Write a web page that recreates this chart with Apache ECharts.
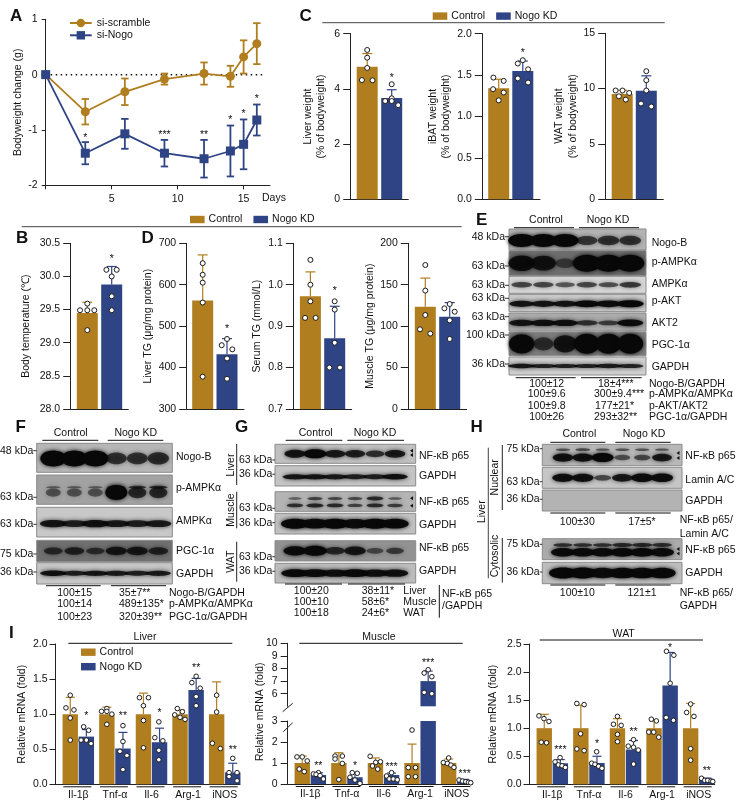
<!DOCTYPE html>
<html><head><meta charset="utf-8">
<style>html,body{margin:0;padding:0;background:#fff}#c{width:738px;height:810px}</style>
<script src="https://cdn.jsdelivr.net/npm/echarts@6/dist/echarts.min.js"></script>
</head><body><div id="c"></div>
<script>
// ---------- data: panel A ----------
const days=[0,3,6,9,12,14,15,16];
const scrambleMean=[0,-0.67,-0.31,-0.08,0.02,-0.03,0.32,0.56];
const scrambleErr=[0,0.23,0.24,0.10,0.20,0.19,0.30,0.37];
const nogoMean=[0,-1.42,-1.07,-1.42,-1.52,-1.38,-1.26,-0.82];
const nogoErr=[0,0.20,0.27,0.24,0.34,0.46,0.45,0.28];
const starsA=[[3,-1.11,'*'],[9,-1.05,'***'],[12,-1.05,'**'],[14,-0.78,'*'],[15,-0.67,'*'],[16,-0.40,'*']];
// ---------- data: two-bar panels: means, sds, points as [jitter, value] ----------
const liverWMean=[4.8,3.67], liverWSd=[0.48,0.30];
const liverWCtl=[[0,5.41],[0,5.13],[0,4.76],[-5.3,4.32],[5.3,4.31]];
const liverWKd=[[0,4.17],[0,3.66],[-6.5,3.56],[0,3.56],[6.5,3.41]];
const ibatMean=[1.34,1.55], ibatSd=[0.11,0.12];
const ibatCtl=[[-5.3,1.47],[5,1.43],[-5.6,1.33],[5,1.29],[0,1.195]];
const ibatKd=[[0,1.68],[-5,1.64],[5.3,1.57],[-5,1.46],[5.3,1.41]];
const watMean=[9.5,9.8], watSd=[0.35,1.35];
const watCtl=[[-6.6,9.82],[0.3,9.82],[7,9.6],[-3.3,9.3],[3.6,9.0]];
const watKd=[[0,11.57],[0,10.75],[0,9.82],[-5.3,8.64],[5,8.37]];
const tempMean=[29.45,29.88], tempSd=[0.16,0.27];
const tempCtl=[[0,29.59],[-7.3,29.49],[0,29.49],[7,29.49],[0,29.19]];
const tempKd=[[-5.3,30.1],[5,30.1],[0,30.0],[0,29.7],[0,29.49]];
const liverTgMean=[562,432], liverTgSd=[110,38];
const liverTgCtl=[[0,652],[0,624],[0,605],[0,557],[0,378]];
const liverTgKd=[[0,469],[-5.3,454],[5.3,444],[0,422],[0,373]];
const serumMean=[0.972,0.871], serumSd=[0.059,0.077];
const serumCtl=[[0,1.06],[0,1.0],[0,0.96],[-5.3,0.92],[5.3,0.92]];
const serumKd=[[0,0.96],[0,0.94],[0,0.86],[-5.3,0.8],[5.3,0.8]];
const muscleTgMean=[123.5,111.4], muscleTgSd=[34.5,17];
const muscleTgCtl=[[0,173.8],[0,142.9],[0,113.5],[-5.3,96.2],[5,91]];
const muscleTgKd=[[0,126.7],[-5.3,121.5],[5,117.4],[0,107],[0,84.5]];
// ---------- data: panel I ----------
const mrnaCats=['Il-1β','Tnf-α','Il-6','Arg-1','iNOS'];
const ctlOne=[1,1,1,1,1];
const mLiverKd=[0.68,0.51,0.6,1.345,0.17];
const mLiverCtlSd=[0.24,0.10,0.30,0.06,0.46], mLiverKdSd=[0.10,0.23,0.20,0.165,0.13];
const mLiverCtlPts=[
 [[0,1.27],[-4.3,1.09],[3.7,1.06],[0,0.945],[0,0.63]],
 [[0,1.08],[-5.3,1.04],[0,1.04],[5,1.0],[0,0.855]],
 [[-4,1.235],[5,1.235],[0,1.12],[0,0.91],[0,0.52]],
 [[-2.7,1.08],[2.3,1.035],[-5.3,0.99],[0,0.955],[5,0.925]],
 [[0,1.27],[0,1.03],[-4.3,0.585],[3.7,0.51]]];
const mLiverKdPts=[
 [[-2.7,0.82],[2.3,0.77],[-5.3,0.63],[0,0.63],[4.7,0.58]],
 [[0,0.836],[0,0.61],[-3,0.47],[4,0.41],[0,0.21]],
 [[-0.7,0.89],[-4.7,0.665],[3.3,0.62],[-0.7,0.485],[-0.7,0.35]],
 [[0,1.54],[-4.3,1.45],[4,1.37],[0,1.25],[0,1.12]],
 [[0,0.37],[-3.7,0.166],[4.3,0.166],[-3.7,0.11],[4.3,0.05]]];
const mLiverStars=[[0.22,1.0,'*'],[1.22,1.0,'**'],[2.22,1.05,'*'],[3.22,1.68,'**'],[4.22,0.51,'**']];
const mMuscleKd=[0.43,0.32,0.43,7,0.16];
const mMuscleCtlSd=[0.33,0.49,0.24,0.9,0.19], mMuscleKdSd=[0.11,0.22,0.09,0.8,0.06];
const mMuscleCtlPts=[
 [[-5.3,1.29],[0,1.29],[5,1.1],[-3,0.71],[2,0.59]],
 [[-3.8,1.33],[3.5,1.33],[-3.8,1.19],[3.5,0.98],[0,0.21]],
 [[-5.3,1.32],[0.3,1.03],[5,1.06],[-3,0.86],[2.3,0.71]],
 [[0,2.57],[-3.8,0.78],[3.5,0.78],[-3.8,0.35],[3.5,0.35]],
 [[0,1.24],[-5.3,1.02],[-1.3,0.98],[2.3,0.9],[5.3,0.79]]];
const mMuscleKdPts=[
 [[-5,0.48],[0,0.54],[-2.3,0.46],[1.7,0.4],[5,0.24]],
 [[-2.7,0.54],[2.3,0.51],[-5,0.32],[0,0.19],[5,0.03]],
 [[0,0.54],[-5,0.38],[-2.3,0.24],[1.7,0.24],[5.7,0.2]],
 [[0,7.9],[-4,7.64],[3.7,7.35],[-4,6.1],[3.7,6.0]],
 [[-5.7,0.19],[-2.3,0.14],[1,0.11],[3.7,0.08],[6,0.06]]];
const mMuscleStars=[[0.22,0.97,'**'],[1.22,0.94,'*'],[2.22,0.90,'***'],[4.22,0.59,'***']];
const mMuscleStarsHigh=[[3.22,8.6,'***']];
const mWatKd=[0.375,0.38,0.62,1.76,0.095];
const mWatCtlSd=[0.247,0.41,0.17,0.13,0.44], mWatKdSd=[0.065,0.12,0.16,0.59,0.015];
const mWatCtlPts=[
 [[-5.3,1.22],[-0.3,1.17],[4.7,1.12],[-3,0.75],[2.3,0.74]],
 [[-4,1.44],[3.3,1.42],[-0.3,0.9],[-4,0.63],[3.3,0.6]],
 [[0,1.21],[-4,1.07],[3.7,1.05],[0,0.89],[0,0.76]],
 [[-2.7,1.16],[2.3,1.13],[-5.3,0.93],[-0.3,0.93],[4.7,0.84]],
 [[0,1.43],[-4,1.28],[3.3,1.21],[0,0.635],[0,0.43]]];
const mWatKdPts=[
 [[-0.3,0.475],[-5.3,0.40],[-2,0.345],[1.7,0.33],[5,0.30]],
 [[-0.3,0.58],[-5.3,0.375],[-2,0.356],[1.7,0.32],[5,0.285]],
 [[0,0.795],[-5.3,0.68],[0,0.66],[4.7,0.61],[0,0.36]],
 [[-3.7,2.37],[3.7,2.3],[0,1.8],[-4,1.19],[3.3,1.14]],
 [[-5.3,0.107],[-2,0.07],[1,0.07],[4.3,0.06],[6,0.05]]];
const mWatStars=[[0.22,0.64,'***'],[1.22,0.76,'*'],[2.22,0.96,'**'],[3.22,2.46,'*'],[4.22,0.27,'**']];
// ---------- data: blot band strengths per lane ----------
const eNogoB=[1,1,1,.45,.5,.5], ePampk=[.85,.75,.2,1,1,1], eAmpk=[.42,.4,.3,.4,.35,.5], ePakt=[.8,.8,.8,.95,.9,1], eAkt2=[.8,.85,.85,.5,.4,.9], ePgc=[.95,.4,.75,1,1,1], eGapdh=[.8,.7,.7,.7,.75,.7];
const fNogoB=[1,1,1,.5,.5,.55], fPampkUp=[.15,.15,.15,.6,.5,.6], fPampk=[.2,.2,.2,1,.55,.55], fAmpk=[.8,.7,.85,.75,.7,.75], fPgc=[.45,.55,.4,.7,.7,.55], fGapdh=[.85,.7,.8,.75,.7,.75];
const gLiverP65=[.8,1,.75,.7,.55,.75], gLiverGapdh=[.8,.8,.75,.7,.7,.85];
const gMuscleP65Up=[.15,.4,.35,.35,.6,.2], gMuscleP65=[.55,.65,.6,.4,.6,.45], gMuscleGapdh=[1,.95,1,.9,1,.95];
const gWatP65=[.9,1,.55,.75,.25,.35], gWatGapdh=[.95,.9,.85,.95,.85,.85];
const hNucP65Up=[.3,.35,.25,.3,.3,.25], hNucP65=[.85,.85,1,.3,.35,.75], hLamin=[.85,.85,.35,.75,.9,.9];
const hCytP65Up=[.5,.5,.5,.6,.6,.55], hCytP65=[.9,.9,.9,.95,.95,.9], hCytGapdh=[1,1,.9,.95,.95,.95];

// ---------- build ----------
const GOLD='#B07E1F', BLUE='#2E4484', INK='#222', FONT='"Liberation Sans",Arial,sans-serif', FS=10.5;
const option={animation:false,backgroundColor:'#fff',textStyle:{fontFamily:FONT},grid:[],xAxis:[],yAxis:[],series:[],legend:[],graphic:[]};
const G=option.graphic;
function T(x,y,text,o){o=o||{};G.push({type:'text',x,y,rotation:o.rot?Math.PI/2:0,z:20,silent:true,style:{text,align:o.align||'left',verticalAlign:'middle',fill:o.fill||'#111',font:(o.weight||'normal')+' '+(o.size||FS)+'px '+FONT}});}
function L(x1,y1,x2,y2,c,w){G.push({type:'line',z:19,silent:true,shape:{x1,y1,x2,y2},style:{stroke:c||INK,lineWidth:w||1}});}
function addAxes(a){
  const gi=option.grid.length;
  option.grid.push({left:a.l,top:a.t,width:a.r-a.l,height:a.b-a.t,containLabel:false});
  const lineS={color:INK,width:1};
  const lab={color:'#111',fontSize:FS,fontFamily:FONT};
  const tl=a.ytick||7;
  const x={type:'value',gridIndex:gi,min:a.xmin,max:a.xmax,splitLine:{show:false},axisLine:{onZero:false,lineStyle:lineS,show:!a.hideX},axisTick:{show:false},axisLabel:{show:false}};
  if(a.xLabels){x.axisLabel={show:true,margin:a.xMargin||5,hideOverlap:false,showMinLabel:true,showMaxLabel:true,customValues:a.xValues,formatter:v=>a.xLabels(v),...lab};}
  if(a.xTicks){x.axisTick={show:true,length:a.tick||4,customValues:a.xTicks,lineStyle:lineS};}
  const y={type:'value',gridIndex:gi,min:a.ymin,max:a.ymax,interval:a.yint,splitLine:{show:false},
    axisLine:{onZero:false,lineStyle:lineS},axisTick:{length:tl,lineStyle:lineS},axisLabel:{margin:a.ymargin||(tl+3),showMinLabel:true,showMaxLabel:true,formatter:a.yfmt,...lab}};
  if(a.yValues){y.axisTick.customValues=a.yValues;y.axisLabel.customValues=a.yValues;}
  if(a.yname){Object.assign(y,{name:a.yname,nameLocation:'middle',nameGap:a.nameGap,nameTextStyle:{color:'#111',fontSize:FS,fontFamily:FONT,lineHeight:13.5}});}
  option.xAxis.push(x);option.yAxis.push(y);
  return gi;
}
function barS(gi,name,color,data,w){option.series.push({type:'bar',name,xAxisIndex:gi,yAxisIndex:gi,data,barWidth:w,barGap:'-100%',z:2,itemStyle:{color},silent:true});}
function errS(gi,color,data,cap,lw,z){
  option.series.push({type:'custom',name:'err',xAxisIndex:gi,yAxisIndex:gi,z:z||3,silent:true,data,
    renderItem(p,api){
      const x=api.value(0),m=api.value(1),e=api.value(2),both=api.value(3);
      const a=api.coord([x,m+e]),b=api.coord([x,both?m-e:m]);
      const st={stroke:color,lineWidth:lw,fill:null};
      const kids=[{type:'line',shape:{x1:a[0],y1:a[1],x2:b[0],y2:b[1]},style:st},{type:'line',shape:{x1:a[0]-cap,y1:a[1],x2:a[0]+cap,y2:a[1]},style:st}];
      if(both)kids.push({type:'line',shape:{x1:b[0]-cap,y1:b[1],x2:b[0]+cap,y2:b[1]},style:st});
      return {type:'group',children:kids};
    }});
}
function ptS(gi,data,size){option.series.push({type:'scatter',name:'pts',xAxisIndex:gi,yAxisIndex:gi,z:5,silent:true,data,symbol:'circle',symbolSize:size||5,itemStyle:{color:'#fff',borderColor:'#1c1c1c',borderWidth:1,opacity:1}});}
function starS(gi,list){
  option.series.push({type:'custom',name:'stars',xAxisIndex:gi,yAxisIndex:gi,z:6,silent:true,data:list.map(s=>[s[0],s[1]]),
    renderItem(p,api){const c=api.coord([api.value(0),api.value(1)]);
      return {type:'text',x:c[0],y:c[1]+2,style:{text:list[p.dataIndex][2],align:'center',verticalAlign:'middle',fill:'#111',font:'10.5px '+FONT,lineHeight:10}};}});
}
function twoBar(a,mean,sd,ctl,kd,stars){
  const unit=a.c1-a.c0;
  const gi=addAxes({l:a.l,r:a.r,t:a.t,b:a.b,xmin:(a.l-a.c0)/unit,xmax:(a.r-a.c0)/unit,ymin:a.ymin,ymax:a.ymax,yint:a.yint,yname:a.yname,nameGap:a.nameGap,yfmt:a.yfmt,ytick:7.5});
  barS(gi,'Control',GOLD,[[0,mean[0]]],21);
  barS(gi,'Nogo KD',BLUE,[[1,mean[1]]],21);
  errS(gi,GOLD,[[0,mean[0],sd[0],0]],5,1.2);
  errS(gi,BLUE,[[1,mean[1],sd[1],0]],5,1.2);
  ptS(gi,ctl.map(p=>[p[0]/unit,p[1]]));
  ptS(gi,kd.map(p=>[1+p[0]/unit,p[1]]));
  if(stars)starS(gi,stars);
}
const PITCH=36.6, OFF=0.22;
function fiveBar(a,kdM,ctlSd,kdSd,ctlP,kdP,stars){
  const idx=a.only||[0,1,2,3,4];
  const gi=addAxes({l:a.l,r:a.r,t:a.t,b:a.b,xmin:(a.l-a.g0)/PITCH,xmax:(a.r-a.g0)/PITCH,ymin:a.ymin,ymax:a.ymax,yint:a.yint,yname:a.yname,nameGap:a.nameGap,yfmt:a.yfmt,ytick:a.ytick||5.5,ymargin:a.ymargin||7.5,
    hideX:a.hideX,xValues:a.hideX?null:[0,1,2,3,4],xLabels:a.hideX?null:(v=>mrnaCats[Math.round(v)]),xMargin:5});
  barS(gi,'Control',GOLD,idx.map(i=>[i-OFF,ctlOne[i]]),15.4);
  barS(gi,'Nogo KD',BLUE,idx.map(i=>[i+OFF,kdM[i]]),15.4);
  const show=(v)=>v<=a.ymax&&v>=a.ymin;
  errS(gi,GOLD,idx.filter(i=>show(1)).map(i=>[i-OFF,1,ctlSd[i],0]),4.5,1.2);
  errS(gi,BLUE,idx.filter(i=>show(kdM[i])).map(i=>[i+OFF,kdM[i],kdSd[i],0]),4.5,1.2);
  const pts=[];
  idx.forEach(i=>{ctlP[i].forEach(p=>{if(show(p[1]))pts.push([i-OFF+p[0]/PITCH,p[1]]);});
                  kdP[i].forEach(p=>{if(show(p[1]))pts.push([i+OFF+p[0]/PITCH,p[1]]);});});
  ptS(gi,pts,4.6);
  if(stars)starS(gi,stars);
  if(!a.hideX){ // group brackets under each category, on the axis scale
    option.series.push({type:'custom',name:'brackets',xAxisIndex:gi,yAxisIndex:gi,z:3,silent:true,clip:false,data:[0,1,2,3,4].map(i=>[i,a.ymin]),
      renderItem(p,api){const c=api.coord([api.value(0),api.value(1)]);const h=14;
        return {type:'line',shape:{x1:c[0]-h+a.bshift,y1:c[1]+2.5,x2:c[0]+h+a.bshift,y2:c[1]+2.5},style:{stroke:'#111',lineWidth:1}};}});
  }
  return gi;
}
function lgd(left,top,orient,gap){option.legend.push({left,top,orient,itemWidth:14.6,itemHeight:7.4,itemGap:gap,padding:0,selectedMode:false,icon:'rect',data:['Control','Nogo KD'],textStyle:{fontSize:FS,color:'#111',fontFamily:FONT,padding:[0,0,0,-1]}});}

// ---- Panel A
(function(){
  const gi=addAxes({l:45.7,r:270,t:19.3,b:185.3,xmin:0,xmax:17,ymin:-2,ymax:1,yint:1,ytick:4,ymargin:8,yname:'Bodyweight change (g)',nameGap:19.4,
    xValues:[5,10,15],xLabels:v=>String(v),xTicks:[0,5,10,15],tick:4,xMargin:8});
  option.series.push({type:'line',name:'zero',xAxisIndex:gi,yAxisIndex:gi,z:1,silent:true,symbol:'none',data:[[0,0],[16.6,0]],lineStyle:{color:'#111',width:1.5,type:[1.5,3.5]}});
  errS(gi,GOLD,days.map((d,i)=>[d,scrambleMean[i],scrambleErr[i],1]),3.7,1.8);
  errS(gi,BLUE,days.map((d,i)=>[d,nogoMean[i],nogoErr[i],1]),3.7,1.8);
  option.series.push({type:'line',name:'si-scramble',xAxisIndex:gi,yAxisIndex:gi,z:4,silent:true,symbol:'circle',symbolSize:9,data:days.map((d,i)=>[d,scrambleMean[i]]),lineStyle:{color:GOLD,width:1.8},itemStyle:{color:GOLD}});
  option.series.push({type:'line',name:'si-Nogo',xAxisIndex:gi,yAxisIndex:gi,z:4,silent:true,symbol:'rect',symbolSize:9,data:days.map((d,i)=>[d,nogoMean[i]]),lineStyle:{color:BLUE,width:1.8},itemStyle:{color:BLUE}});
  starS(gi,starsA);
  option.legend.push({left:69,top:17.5,orient:'vertical',itemWidth:21.7,itemHeight:10.5,itemGap:1.3,padding:0,selectedMode:false,data:['si-scramble','si-Nogo'],textStyle:{fontSize:FS,color:'#111',fontFamily:FONT}});
  T(262,198,'Days');
})();
T(10,16.5,'A',{weight:'bold',size:17});

// ---- Panel C
T(299.5,16,'C',{weight:'bold',size:17});
lgd(432.7,10.6,'horizontal',11);
L(322.3,22.7,664.7,22.7,'#444',1);
const f1=v=>v.toFixed(1), f0=v=>String(v);
twoBar({l:350.7,r:408.3,t:33.7,b:199.3,c0:367.2,c1:391.7,ymin:0,ymax:6,yint:2,yname:'Liver weight\n(% of bodyweight)',nameGap:22.7},liverWMean,liverWSd,liverWCtl,liverWKd,[[1,4.47,'*']]);
twoBar({l:482.3,r:540,t:33.7,b:199.3,c0:498.7,c1:522.8,ymin:0,ymax:2,yint:.5,yfmt:f1,yname:'iBAT weight\n(% of bodyweight)',nameGap:29},ibatMean,ibatSd,ibatCtl,ibatKd,[[1,1.79,'*']]);
twoBar({l:605.7,r:663.3,t:33.3,b:199,c0:622.2,c1:646.3,ymin:0,ymax:15,yint:5,yname:'WAT weight\n(% of bodyweight)',nameGap:24.7},watMean,watSd,watCtl,watKd);

// ---- Panels B and D
lgd(190,214,'horizontal',11);
L(21.7,226.7,461.7,226.7,'#444',1);
T(16,238.5,'B',{weight:'bold',size:17});
T(141.5,238.5,'D',{weight:'bold',size:17});
twoBar({l:70.7,r:128.3,t:243.3,b:409,c0:87.3,c1:111.7,ymin:28,ymax:30.5,yint:.5,yfmt:f1,yname:'Body temperature (℃)',nameGap:37.7},tempMean,tempSd,tempCtl,tempKd,[[1,30.29,'*']]);
twoBar({l:186.7,r:244,t:243.3,b:409,c0:202.7,c1:227,ymin:300,ymax:700,yint:100,yname:'Liver TG (μg/mg protein)',nameGap:30.4},liverTgMean,liverTgSd,liverTgCtl,liverTgKd,[[1,497,'*']]);
twoBar({l:293.3,r:351.7,t:243.3,b:409,c0:310.4,c1:334.7,ymin:.7,ymax:1.1,yint:.1,yfmt:f1,yname:'Serum TG (mmol/L)',nameGap:24},serumMean,serumSd,serumCtl,serumKd,[[1,0.99,'*']]);
twoBar({l:408.3,r:466.7,t:243.3,b:409,c0:425.3,c1:449.7,ymin:0,ymax:200,yint:50,yname:'Muscle TG (μg/mg protein)',nameGap:29},muscleTgMean,muscleTgSd,muscleTgCtl,muscleTgKd);

// ---- Blots
function blot(x0,y0,x1,y1,bg,lane0,pitch,rows){
  const gi=option.grid.length;
  option.grid.push({left:x0,top:y0,width:x1-x0,height:y1-y0,show:true,backgroundColor:bg,borderColor:'#8a8a8a',borderWidth:1,containLabel:false});
  option.xAxis.push({type:'value',gridIndex:gi,show:false,min:(x0-lane0)/pitch,max:(x1-lane0)/pitch});
  option.yAxis.push({type:'value',gridIndex:gi,show:false,min:0,max:1,inverse:true});
  rows.forEach(r=>{
    option.series.push({type:'custom',name:'band',xAxisIndex:gi,yAxisIndex:gi,z:2,silent:true,data:r.v.map((v,i)=>[i,r.y,v]),
      renderItem(p,api){const c=api.coord([api.value(0),api.value(1)]),v=api.value(2);
        const a=.35+.65*v;
        return {type:'ellipse',shape:{cx:c[0],cy:c[1],rx:r.w/2*(.6+.4*v),ry:r.h/2*(.45+.55*v)},style:{fill:'rgba(8,8,8,'+a.toFixed(2)+')',shadowBlur:4,shadowColor:'rgba(8,8,8,'+a.toFixed(2)+')'}};}});
  });
}
function kda(xr,xb,y,t){T(xr,y,t,{align:'right'});L(xr,y,xb,y,'#333',1);}
function head(cx1,cx2,y,ly,a1,a2,b1,b2){T(cx1,y,'Control',{align:'center'});T(cx2,y,'Nogo KD',{align:'center'});L(a1,ly,a2,ly,'#111',1);L(b1,ly,b2,ly,'#111',1);}
function tri(x,y){G.push({type:'polygon',z:19,silent:true,shape:{points:[[x,y],[x+3,y-2],[x+3,y+2]]},style:{fill:'#111'}});}

// E
T(476,220,'E',{weight:'bold',size:17});
head(546,608,220,227.7,514,574,579,639);
const eX=[509,646], eL=521.7, eP=21.7;
blot(eX[0],229,eX[1],250,'#b2b2b2',eL,eP,[{y:.55,h:13,w:27,v:eNogoB}]);
blot(eX[0],250.7,eX[1],275.7,'#6d6d6d',eL,eP,[{y:.5,h:17,w:28,v:ePampk}]);
blot(eX[0],276.3,eX[1],293.3,'#d6d6d6',eL,eP,[{y:.5,h:8,w:27,v:eAmpk}]);
blot(eX[0],294.3,eX[1],311.7,'#c9c9c9',eL,eP,[{y:.55,h:7,w:27,v:ePakt}]);
blot(eX[0],313,eX[1],331,'#ababab',eL,eP,[{y:.55,h:7,w:27,v:eAkt2}]);
blot(eX[0],332,eX[1],355.7,'#7c7c7c',eL,eP,[{y:.5,h:20,w:26,v:ePgc}]);
blot(eX[0],357,eX[1],375,'#cfcfcf',eL,eP,[{y:.5,h:5,w:30,v:eGapdh}]);
[[236.7,'48 kDa'],[266,'63 kDa'],[285.3,'63 kDa'],[298.3,'63 kDa'],[316.7,'63 kDa'],[335,'100 kDa'],[364,'36 kDa']].forEach(k=>kda(505,509,k[0],k[1]));
[[242.7,'Nogo-B'],[262.3,'p-AMPKα'],[284.3,'AMPKα'],[301,'p-AKT'],[322.7,'AKT2'],[345,'PGC-1α'],[366.7,'GAPDH']].forEach(k=>T(651.7,k[0],k[1]));
L(515.7,377.7,575.7,377.7,'#111');L(581,377.7,641.7,377.7,'#111');
[[384,'100±12',598,'18±4***','Nogo-B/GAPDH'],[394.3,'100±9.6',594,'300±9.4***','p-AMPKα/AMPKα'],[406.3,'100±9.8',595,'177±21*','p-AKT/AKT2'],[416.7,'100±26',594,'293±32**','PGC-1α/GAPDH']].forEach(r=>{T(546.7,r[0],r[1],{align:'center'});T(r[2],r[0],r[3]);T(649,r[0],r[4]);});

// F
T(15.5,427.5,'F',{weight:'bold',size:17});
head(70.7,135.7,433.3,440.3,42.3,98.3,107.7,163.3);
const fL=53.3,fP=21;
blot(36.7,443.3,172.3,472.3,'#b6b6b6',fL,fP,[{y:.52,h:16,w:26,v:fNogoB}]);
blot(36.7,475,172.3,504.3,'#a2a2a2',fL,fP,[{y:.42,h:4,w:22,v:fPampkUp},{y:.6,h:15,w:22,v:fPampk}]);
blot(36.7,507.3,172.3,537,'#c8c8c8',fL,fP,[{y:.55,h:8,w:29,v:fAmpk}]);
blot(36.7,540.3,172.3,561.7,'#707070',fL,fP,[{y:.5,h:10,w:24,v:fPgc}]);
blot(36.7,562.7,172.3,584,'#c6c6c6',fL,fP,[{y:.5,h:6,w:28,v:fGapdh}]);
[[450.7,'48 kDa'],[497.3,'63 kDa'],[524.3,'63 kDa'],[554,'75 kDa'],[572,'36 kDa']].forEach(k=>kda(33.3,36.7,k[0],k[1]));
[[457.3,'Nogo-B'],[487.7,'p-AMPKα'],[520.7,'AMPKα'],[550.7,'PGC-1α'],[573.7,'GAPDH']].forEach(k=>T(176,k[0],k[1]));
L(46,585.7,100.7,585.7,'#111');L(111,585.7,166,585.7,'#111');
[[592.7,'100±15','35±7**','Nogo-B/GAPDH'],[604.5,'100±14','489±135*','p-AMPKα/AMPKα'],[617.5,'100±23','320±39**','PGC-1α/GAPDH']].forEach(r=>{T(74.7,r[0],r[1],{align:'center'});T(119,r[0],r[2]);T(169,r[0],r[3]);});

// G
T(235,427.5,'G',{weight:'bold',size:17});
head(315.7,375,432.7,440.3,285.7,342.3,347.3,404);
const gL=295,gP=20;
blot(275,444.3,415.7,463.3,'#c0c0c0',gL,gP,[{y:.5,h:9,w:23,v:gLiverP65}]);
blot(275,465.7,415.7,486,'#c4c4c4',gL,gP,[{y:.55,h:6,w:27,v:gLiverGapdh}]);
blot(275,491.7,415.7,511.3,'#b4b4b4',gL,gP,[{y:.35,h:5,w:20,v:gMuscleP65Up},{y:.7,h:5,w:20,v:gMuscleP65}]);
blot(275,513.3,415.7,534,'#c0c0c0',gL,gP,[{y:.5,h:10,w:28,v:gMuscleGapdh}]);
blot(275,540.7,415.7,561,'#929292',gL,gP,[{y:.5,h:10,w:24,v:gWatP65}]);
blot(275,563.3,415.7,583,'#bcbcbc',gL,gP,[{y:.5,h:8,w:28,v:gWatGapdh}]);
[[460,'63 kDa'],[474.3,'36 kDa'],[508.3,'63 kDa'],[522.7,'36 kDa'],[556.7,'63 kDa'],[571.3,'36 kDa']].forEach(k=>kda(272.3,275,k[0],k[1]));
[[455.7,'NF-κB p65'],[476.3,'GAPDH'],[502.3,'NF-κB p65'],[525,'GAPDH'],[548,'NF-κB p65'],[571.3,'GAPDH']].forEach(k=>T(419,k[0],k[1]));
[[410,450.7],[410,455],[410,498.3],[410,505.7]].forEach(p=>tri(p[0],p[1]));
T(230.7,465,'Liver',{rot:1,align:'center'});L(236.7,444,236.7,485,'#222');
T(231,510,'Muscle',{rot:1,align:'center'});L(236.7,491.7,236.7,528.3,'#222');
T(231,561.7,'WAT',{rot:1,align:'center'});L(236.7,541.7,236.7,581.7,'#222');
L(285,584,342,584,'#111');L(348,584,405,584,'#111');
[[591.3,'100±20','38±11*','Liver'],[602,'100±10','58±6*','Muscle'],[612.7,'100±18','24±6*','WAT']].forEach(r=>{T(311.3,r[0],r[1],{align:'center'});T(361.7,r[0],r[2]);T(403.3,r[0],r[3]);});
L(439.3,585,439.3,617.7,'#111');
T(442,594.3,'NF-κB p65');T(442,605.7,'/GAPDH');

// H
T(470.5,427.5,'H',{weight:'bold',size:17});
head(579.3,644,434.3,442.3,550.3,605.3,615.3,670.7);
const hL=563,hP=19.8;
blot(542.3,444.3,682,465.7,'#b8b8b8',hL,hP,[{y:.25,h:4,w:20,v:hNucP65Up},{y:.62,h:9,w:22,v:hNucP65}]);
blot(542.3,467.3,682,488.3,'#c6c6c6',hL,hP,[{y:.5,h:9,w:23,v:hLamin}]);
blot(542.3,490,682,511,'#b3b3b3',hL,hP,[]);
blot(542.3,538.7,682,559.7,'#ababab',hL,hP,[{y:.3,h:5,w:24,v:hCytP65Up},{y:.65,h:9,w:25,v:hCytP65}]);
blot(542.3,562.3,682,583.7,'#bdbdbd',hL,hP,[{y:.5,h:11,w:28,v:hCytGapdh}]);
[[448.7,'75 kDa'],[481.7,'63 kDa'],[499.3,'36 kDa'],[544.3,'75 kDa'],[572,'36 kDa']].forEach(k=>kda(539.7,542.3,k[0],k[1]));
[[456,'NF-κB p65'],[480,'Lamin A/C'],[500.7,'GAPDH'],[550,'NF-κB p65'],[573.3,'GAPDH']].forEach(k=>T(685.3,k[0],k[1]));
[[676.5,453],[676.5,458],[676.5,549],[676.5,553.5]].forEach(p=>tri(p[0],p[1]));
T(495.3,477.3,'Nuclear',{rot:1,align:'center'});L(502.3,445,502.3,510,'#222');
T(495.3,556,'Cytosolic',{rot:1,align:'center'});L(502.3,538,502.3,582.7,'#222');
T(481.7,511.7,'Liver',{rot:1,align:'center'});L(488.3,447.7,488.3,578.3,'#444');
L(550.3,513,605.3,513,'#111');L(615.3,513,670.7,513,'#111');
T(577.3,521.7,'100±30',{align:'center'});T(642,521.7,'17±5*',{align:'center'});
T(679.7,520.3,'NF-κB p65/');T(679.7,533.7,'Lamin A/C');
L(550.3,585,605.3,585,'#111');L(615.3,585,670.7,585,'#111');
T(577.3,593.3,'100±10',{align:'center'});T(642,593.3,'121±1',{align:'center'});
T(679.7,593.3,'NF-κB p65/');T(679.7,606,'GAPDH');

// ---- Panel I
T(9,633,'I',{weight:'bold',size:17});
T(145,637.3,'Liver',{align:'center'});L(68.3,643.3,232.3,643.3,'#111');
T(379,637.3,'Muscle',{align:'center'});L(299.3,643.3,462.7,643.3,'#111');
T(623.7,634,'WAT',{align:'center'});L(539.7,640,703,640,'#111');
lgd(81,646.7,'vertical',3.5);
fiveBar({l:55,r:240,t:644,b:784.3,g0:78.3,ymin:0,ymax:2,yint:.5,yfmt:f1,yname:'Relative mRNA (fold)',nameGap:25.5,bshift:-1},mLiverKd,mLiverCtlSd,mLiverKdSd,mLiverCtlPts,mLiverKdPts,mLiverStars);
fiveBar({l:287.7,r:472.3,t:721,b:784,g0:310.3,ymin:0,ymax:3,yint:1,yValues:[0,1,2],ytick:7,ymargin:10,bshift:-0.5},mMuscleKd,mMuscleCtlSd,mMuscleKdSd,mMuscleCtlPts,mMuscleKdPts,mMuscleStars);
fiveBar({l:287.7,r:472.3,t:643.3,b:706.3,g0:310.3,ymin:5,ymax:10,yint:1,ytick:7,ymargin:10,hideX:true,only:[3]},mMuscleKd,mMuscleCtlSd,mMuscleKdSd,mMuscleCtlPts,mMuscleKdPts,mMuscleStarsHigh);
option.yAxis[option.yAxis.length-1].axisTick.customValues=[6,7,8,9,10];
option.yAxis[option.yAxis.length-1].axisLabel.customValues=[6,7,8,9,10];
L(282.7,711.7,292.7,703.3,'#222');L(283.3,731.7,292.7,722.7,'#222');
T(260,711.7,'Relative mRNA (fold)',{rot:1,align:'center'});
fiveBar({l:529,r:714.7,t:644,b:784.3,g0:552.3,ymin:0,ymax:2.5,yint:.5,yfmt:f1,yname:'Relative mRNA (fold)',nameGap:29.5,bshift:-1},mWatKd,mWatCtlSd,mWatKdSd,mWatCtlPts,mWatKdPts,mWatStars);

const chart=echarts.init(document.getElementById('c'),null,{renderer:'canvas',width:738,height:810});
chart.setOption(option);
</script></body></html>
